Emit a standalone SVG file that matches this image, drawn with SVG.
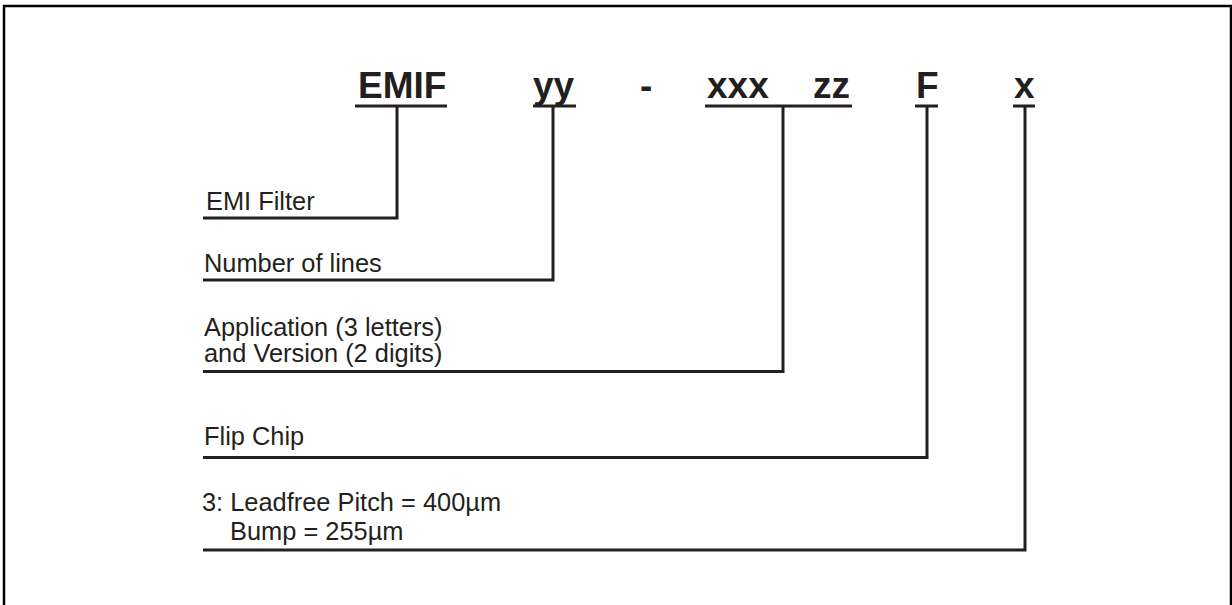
<svg xmlns="http://www.w3.org/2000/svg" width="1232" height="605" viewBox="0 0 1232 605">
<style>
.code{font-family:"Liberation Sans",Arial,sans-serif;font-weight:bold;font-size:37px;fill:#231f20}
.lbl{font-family:"Liberation Sans",Arial,sans-serif;font-size:25.4px;fill:#231f20}
.ln{stroke:#231f20;stroke-width:3;fill:none;stroke-linecap:butt}
</style>
<rect x="4" y="6" width="1227" height="640" fill="#fff" stroke="#000" stroke-width="2.5"/>
<g id="title">
<text class="code" x="358" y="98">EMIF</text>
<text class="code" x="533" y="98">yy</text>
<text class="code" x="640" y="98">-</text>
<text class="code" x="707" y="98">xxx</text>
<text class="code" x="813" y="98">zz</text>
<text class="code" x="916" y="98">F</text>
<text class="code" x="1014" y="98">x</text>
</g>
<g id="node-emi">
<text class="lbl" x="206" y="210">EMI Filter</text>
</g>
<g id="node-lines">
<text class="lbl" x="204" y="272">Number of lines</text>
</g>
<g id="node-app">
<text class="lbl" x="204" y="336">Application (3 letters)</text>
<text class="lbl" x="204" y="362">and Version (2 digits)</text>
</g>
<g id="node-flip">
<text class="lbl" x="204" y="445">Flip Chip</text>
</g>
<g id="node-pitch">
<text class="lbl" x="202" y="511">3: Leadfree Pitch = 400µm</text>
<text class="lbl" x="230" y="540">Bump = 255µm</text>
</g>
<g id="connectors">
<path class="ln" d="M355 106H447M397 106V218H203"/>
<path class="ln" d="M533 106H576M553 106V280H203"/>
<path class="ln" d="M705 106H852M783 106V371.5H203"/>
<path class="ln" d="M915 106H938M927 106V457.5H203"/>
<path class="ln" d="M1013 106H1035M1025 106V550H203"/>
</g>
</svg>
